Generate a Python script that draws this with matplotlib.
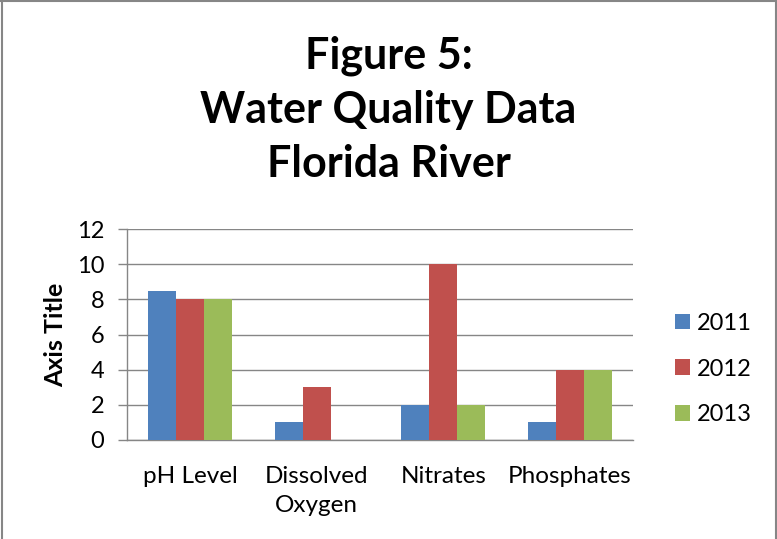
import matplotlib
matplotlib.use("Agg")
import matplotlib.pyplot as plt
import numpy as np
from matplotlib.patches import Patch
from matplotlib.lines import Line2D

categories = ["pH Level", "Dissolved\nOxygen", "Nitrates", "Phosphates"]
series_names = ["2011", "2012", "2013"]
values_2011 = [8.5, 1, 2, 1]
values_2012 = [8, 3, 10, 4]
values_2013 = [8, 0, 2, 4]
y_ticks = [0, 2, 4, 6, 8, 10, 12]

colors = ["#4F81BD", "#C0504D", "#9BBB59"]
grid_color = "#868686"
font = ["Lato", "DejaVu Sans"]
plt.rcParams["font.family"] = font

fig = plt.figure(figsize=(7.77, 5.39), dpi=100)
ax = fig.add_axes([127 / 777, 1 - 440 / 539, (633 - 127) / 777, (440 - 229) / 539])

x = np.arange(len(categories))
width = 0.222
all_vals = [values_2011, values_2012, values_2013]
for i, (vals, c) in enumerate(zip(all_vals, colors)):
    ax.bar(x + (i - 1) * width, vals, width, color=c, zorder=3, linewidth=0)

ax.set_xlim(-0.5, len(categories) - 0.5)
ax.set_ylim(0, 12)
ax.set_yticks(y_ticks)
ax.set_yticklabels([str(t) for t in y_ticks], fontsize=17)
ax.set_xticks(x)
ax.set_xticklabels(categories, fontsize=17.5, linespacing=1.42)
ax.tick_params(axis="x", length=0, pad=19)
ax.tick_params(axis="y", length=6.5, width=1.0, color=grid_color, pad=10)
ax.yaxis.grid(True, color=grid_color, linewidth=1.0, zorder=0)
ax.set_axisbelow(True)
for s in ["top", "right"]:
    ax.spines[s].set_visible(False)
for s in ["left", "bottom"]:
    ax.spines[s].set_color(grid_color)
    ax.spines[s].set_linewidth(1.0)

ax.set_ylabel("Axis Title", fontsize=18, fontweight="bold", labelpad=7)

fig.text(0.5, 1 - 110 / 539, "Figure 5:\nWater Quality Data\nFlorida River",
         ha="center", va="center", fontsize=31, fontweight="bold",
         linespacing=1.43)

handles = [Patch(facecolor=c, edgecolor="none") for c in colors]
fig.legend(handles, series_names, loc="center left",
           bbox_to_anchor=(675 / 777, 1 - 369 / 539), frameon=False,
           fontsize=17, handlelength=0.64, handleheight=0.64,
           handletextpad=0.3, labelspacing=1.05, borderpad=0, borderaxespad=0)

# outer chart frame
fig.add_artist(Line2D([1.5 / 777, 1.5 / 777], [0, 1], transform=fig.transFigure,
                      color=grid_color, linewidth=1.5))
fig.add_artist(Line2D([775.5 / 777, 775.5 / 777], [0, 1], transform=fig.transFigure,
                      color=grid_color, linewidth=1.5))
fig.add_artist(Line2D([0, 1], [1 - 0.7 / 539, 1 - 0.7 / 539], transform=fig.transFigure,
                      color=grid_color, linewidth=1.5))

fig.savefig("out.png", dpi=100)
